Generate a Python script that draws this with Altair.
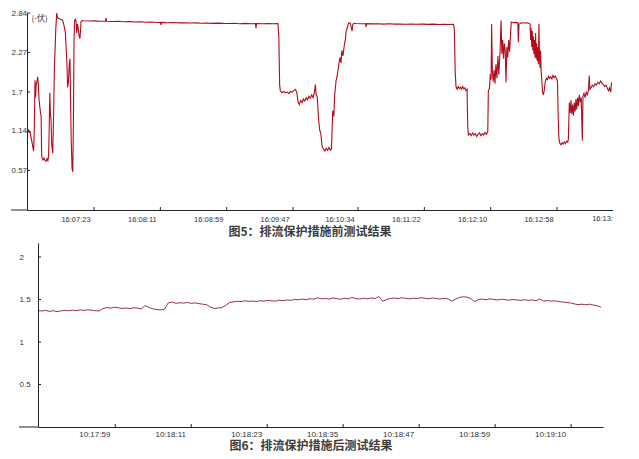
import json
import altair as alt
import pandas as pd

# ---------------- Figure 5 : before drainage protection ----------------
# (seconds after 16:06:35, voltage)
top_trace = [
    (0, 1.15), (0.7, 1.16), (1.4, 1.12), (2.2, 1.13), (2.9, 1.05), (3.6, 0.98), (4.3, 0.90), (4.8, 0.85),
    (5.3, 1.20), (5.8, 1.87), (6.2, 1.62), (6.6, 1.80), (7.2, 1.85), (7.7, 1.92), (8.2, 1.80), (8.7, 1.60),
    (9.3, 1.48), (9.8, 1.40), (10.2, 1.35), (10.6, 0.80), (11.0, 0.74), (11.6, 0.72), (12.3, 0.75), (13.0, 0.72),
    (13.7, 0.70), (14.5, 0.74), (15.1, 0.71), (15.6, 0.78), (16.0, 1.10), (16.5, 1.69), (16.9, 1.40), (17.4, 1.30),
    (17.9, 0.95), (18.6, 0.82), (19.2, 1.30), (19.8, 2.05), (20.3, 2.30), (20.8, 2.60), (21.5, 2.84), (22.0, 2.77),
    (23.2, 2.76), (24.3, 2.75), (25.5, 2.74), (26.3, 2.70), (27.0, 2.64), (27.8, 2.55), (28.4, 2.30), (28.9, 2.10),
    (29.4, 1.77), (30.0, 1.85), (30.6, 2.10), (31.1, 2.18), (31.5, 1.60), (32.0, 1.00), (32.6, 0.60), (33.1, 0.55),
    (33.6, 1.30), (34.0, 2.40), (34.4, 2.73), (35.0, 2.75), (35.5, 2.72), (36.0, 2.55), (36.5, 2.68), (37.2, 2.60),
    (37.8, 2.50), (38.3, 2.47), (38.6, 2.55), (39.1, 2.72), (40.0, 2.73),
    (41.0, 2.728), (45.0, 2.724), (49.0, 2.727), (53.0, 2.722), (56.8, 2.722), (57.2, 2.77), (57.6, 2.72),
    (62, 2.718), (66, 2.721), (70, 2.714), (74, 2.716), (78, 2.71), (82, 2.712), (86, 2.706), (90, 2.71),
    (94, 2.704), (96.6, 2.705), (97.0, 2.67), (97.4, 2.705), (102, 2.70), (106, 2.703), (110, 2.698), (114, 2.70),
    (118, 2.695), (122, 2.698), (126, 2.692), (130, 2.695), (134, 2.69), (138, 2.694), (142, 2.69), (146, 2.688),
    (150, 2.692), (154, 2.686), (158, 2.69), (162, 2.685), (165.3, 2.686), (165.7, 2.62), (166.1, 2.688),
    (170, 2.685), (174, 2.688), (178, 2.684), (181.6, 2.686),
    (182.2, 2.50), (182.8, 1.80), (183.3, 1.72), (184.5, 1.69), (185.7, 1.71), (187.0, 1.69), (188.2, 1.70),
    (189.4, 1.68), (190.6, 1.71), (191.8, 1.70), (193.0, 1.72), (194.2, 1.74), (195.2, 1.70), (196.1, 1.56),
    (197.0, 1.52), (198.0, 1.58), (199.0, 1.55), (200.0, 1.60), (201.0, 1.57), (202.0, 1.62), (203.0, 1.59),
    (204.0, 1.64), (205.0, 1.61), (206.0, 1.66), (207.0, 1.62), (208.0, 1.70), (208.6, 1.81), (209.2, 1.66),
    (210.0, 1.63), (211.0, 1.30), (211.8, 1.15), (212.6, 1.10), (213.5, 0.92), (214.5, 0.88), (215.5, 0.85),
    (216.5, 0.89), (217.5, 0.86), (218.5, 0.90), (219.5, 0.86), (220.3, 0.88), (221.2, 1.43), (222.0, 1.35),
    (222.6, 1.65), (223.6, 1.86), (224.6, 1.95), (225.6, 2.10), (226.5, 2.20), (227.2, 2.12), (227.8, 2.30),
    (228.6, 2.22), (229.6, 2.38), (230.3, 2.45), (230.8, 2.56), (231.6, 2.62), (232.8, 2.70), (234.0, 2.69),
    (235.2, 2.58), (235.8, 2.68), (237.0, 2.69),
    (238, 2.688), (242, 2.684), (244.9, 2.685), (245.3, 2.64), (245.7, 2.686), (250, 2.683), (254, 2.686),
    (258, 2.68), (262, 2.684), (266, 2.679), (270, 2.682), (274, 2.678), (278, 2.681), (282, 2.677), (286, 2.68),
    (290, 2.676), (294, 2.68), (298, 2.675), (302, 2.678), (306, 2.674), (308.6, 2.676),
    (309.2, 2.62), (309.8, 2.00), (310.4, 1.78), (311.2, 1.74), (312.0, 1.78), (312.8, 1.75), (313.6, 1.77),
    (314.4, 1.74), (315.2, 1.78), (316.0, 1.75), (316.8, 1.76), (317.6, 1.72), (318.4, 1.74), (318.9, 1.20),
    (319.4, 1.08), (320.4, 1.10), (321.4, 1.07), (322.4, 1.11), (323.4, 1.08), (324.4, 1.10), (325.4, 1.06),
    (326.4, 1.09), (327.4, 1.11), (328.4, 1.07), (329.4, 1.10), (330.4, 1.08), (331.4, 1.12), (332.4, 1.09),
    (333.4, 1.13),
    (333.8, 1.72), (334.6, 1.75), (335.2, 1.96), (335.8, 1.88), (336.2, 2.68), (336.7, 2.00), (337.3, 1.85),
    (338.0, 2.02), (338.6, 1.82), (339.3, 2.10), (340.0, 1.90), (340.7, 2.22), (341.4, 1.95), (342.3, 2.30),
    (343.0, 2.73), (343.6, 2.25), (344.2, 2.45), (344.8, 2.18), (345.4, 2.40), (346.0, 2.30), (346.6, 1.84),
    (347.2, 2.35), (347.8, 2.20), (348.5, 2.45), (349.2, 2.28), (349.9, 2.55), (350.4, 2.71), (352.0, 2.70),
    (354.0, 2.705), (355.1, 2.70), (355.5, 2.42), (356.0, 2.68), (358.0, 2.70), (360.0, 2.695), (362.0, 2.70),
    (364.0, 2.68),
    (364.4, 2.45), (364.8, 2.62), (365.2, 2.35), (365.6, 2.58), (366.0, 2.30), (366.4, 2.50), (366.8, 2.25),
    (367.2, 2.45), (367.6, 2.20), (368.0, 2.55), (368.4, 2.18), (368.8, 2.40), (369.2, 2.15), (369.6, 2.35),
    (370.0, 2.10), (370.4, 2.68), (370.8, 2.20), (371.2, 2.05), (371.6, 2.30), (372.0, 2.00), (372.4, 1.90),
    (373.0, 1.70), (373.6, 1.66), (374.2, 1.72), (375.0, 1.85), (375.8, 1.90), (376.6, 1.88), (377.4, 1.93),
    (378.2, 1.90), (379.0, 1.92), (379.8, 1.89), (380.6, 1.94), (381.4, 1.91), (382.2, 1.93), (383.0, 1.90),
    (383.8, 1.86), (384.4, 1.30), (384.9, 1.02), (385.6, 0.96), (386.4, 0.94), (387.2, 0.97), (388.0, 0.95),
    (388.8, 0.98), (389.6, 0.96), (390.4, 0.99), (391.2, 0.98), (391.7, 1.02),
    (392.4, 1.55), (393.0, 1.40), (393.6, 1.58), (394.2, 1.38), (394.8, 1.52), (395.4, 1.36), (396.0, 1.55),
    (396.6, 1.42), (397.2, 1.60), (397.8, 1.45), (398.4, 1.62), (399.0, 1.50), (399.6, 1.66), (400.4, 1.55),
    (401.0, 1.62), (401.8, 1.00), (402.3, 1.65), (403.0, 1.68), (403.8, 1.62), (404.6, 1.70), (405.4, 1.66),
    (406.2, 1.72), (406.8, 1.94), (407.3, 1.74), (408.0, 1.76), (409.0, 1.80), (410.0, 1.78), (411.0, 1.82),
    (412.0, 1.80), (413.0, 1.84), (414.0, 1.82), (415.0, 1.86), (416.0, 1.83), (417.0, 1.81), (418.0, 1.78),
    (419.0, 1.80), (420.0, 1.75), (420.8, 1.72), (421.6, 1.76), (422.3, 1.70), (423.0, 1.84),
]
top_x_domain = [0, 424]
top_tick_s = [48.5, 96.5, 144.5, 192.5, 239.5, 287.5, 335.5, 383.5]
top_tick_lbl = ["16:07:23", "16:08:11", "16:08:59", "16:09:47", "16:10:34",
                "16:11:22", "16:12:10", "16:12:58"]
top_cut_label = "16:13:"  # last time label, cut off at the right edge of the plot
top_y_ticks = [0.57, 1.14, 1.7, 2.27, 2.84]
top_y_domain = [0, 2.84]
top_unit = "(-伏)"
top_caption = "图5：排流保护措施前测试结果"

# ---------------- Figure 6 : after drainage protection ----------------
bot_dt = 0.6  # sample interval, seconds after 10:17:47.4
bot_values = [
    1.37, 1.365, 1.372, 1.36, 1.368, 1.358, 1.366, 1.372, 1.368, 1.375, 1.37, 1.378, 1.372, 1.38, 1.374, 1.368, 1.366,
    1.395, 1.405, 1.398, 1.41, 1.402, 1.395, 1.40, 1.392, 1.405, 1.398, 1.39,
    1.43, 1.405, 1.39, 1.382, 1.378, 1.385, 1.46, 1.47,
    1.455, 1.462, 1.458, 1.465, 1.455, 1.46, 1.452,
    1.445, 1.44, 1.41, 1.395, 1.40, 1.405, 1.43, 1.465,
    1.472, 1.48, 1.475, 1.485, 1.478, 1.482, 1.476, 1.486, 1.48, 1.49, 1.485, 1.48, 1.492, 1.486, 1.495, 1.49,
    1.502, 1.496, 1.505, 1.498, 1.51, 1.504, 1.52, 1.508,
    1.512, 1.505, 1.518, 1.51, 1.503, 1.515, 1.508, 1.525, 1.51, 1.506, 1.514, 1.508, 1.518, 1.512,
    1.535, 1.478, 1.50,
    1.512, 1.518, 1.51, 1.52, 1.514, 1.508, 1.516, 1.51, 1.522, 1.515, 1.508, 1.518, 1.512, 1.505, 1.514, 1.508,
    1.48, 1.505, 1.525, 1.532, 1.528, 1.51, 1.475, 1.50,
    1.505, 1.498, 1.508, 1.50, 1.495, 1.504, 1.498, 1.492, 1.50, 1.495, 1.49, 1.497, 1.49, 1.495,
    1.485, 1.505, 1.482, 1.488, 1.48, 1.485,
    1.475, 1.47, 1.465, 1.46,
    1.448, 1.44, 1.445, 1.438, 1.445, 1.435,
    1.425, 1.41,
]
bot_x_domain = [0, 88.5]
bot_tick_s = [12.1, 24.0, 35.9, 47.8, 59.7, 71.6, 83.5]
bot_tick_lbl = ["10:17:59", "10:18:11", "10:18:23", "10:18:35", "10:18:47", "10:18:59", "10:19:10"]
bot_y_ticks = [0.5, 1, 1.5, 2]
bot_y_domain = [0, 2.165]
bot_caption = "图6：排流保护措施后测试结果"

# ---------------- tables ----------------
top_df = pd.DataFrame(top_trace, columns=["s", "v"])
bot_df = pd.DataFrame({"s": [i * bot_dt for i in range(len(bot_values))], "v": bot_values})

AX = "#222222"
LBL = "#333333"
LFONT = "Liberation Sans"
CFONT = "Noto Sans CJK SC"


def panel(df, xdom, ydom, xticks, xlabels, yticks, yfmt, w, h, line_color, line_w,
          label_off, label_pad, x_font, y_pad, inset, caption, cap_dx, cap_off,
          unit=None, cut_label=None):
    # inset: gap (px) between the left edge of the panel and its y axis
    xs = alt.Scale(domain=xdom, range=[inset, w], nice=False, zero=False)
    ys = alt.Scale(domain=ydom, nice=False, zero=False)
    expr = f"{json.dumps(xlabels)}[indexof({json.dumps(xticks)}, datum.value)]"
    xaxis = alt.Axis(values=xticks, labelExpr=expr, labelOffset=label_off, labelPadding=label_pad,
                     ticks=False, tickSize=0, grid=False, labelFlush=False, labelOverlap=False,
                     domainColor=AX, labelColor=LBL, labelFontSize=x_font, labelFont=LFONT, title=None)
    yaxis_kw = dict(values=yticks, format=yfmt, labelAlign="left", labelBaseline="middle",
                    labelPadding=y_pad, ticks=False, tickSize=0, grid=False,
                    domainColor=AX, labelColor=LBL, labelFontSize=8, labelFont=LFONT,
                    minExtent=max(y_pad - inset, 0), maxExtent=16)
    if inset:
        yaxis_kw.update(offset=-inset)
    if unit:
        yaxis_kw.update(title=unit, titleAngle=0, titleX=4, titleY=5, titleAlign="left",
                        titleBaseline="middle", titleFontSize=8, titleFontWeight="normal",
                        titleColor=LBL, titleFont=CFONT)
    else:
        yaxis_kw.update(title=None)
    yaxis = alt.Axis(**yaxis_kw)

    line = alt.Chart(df).mark_line(color=line_color, strokeWidth=line_w, clip=True).encode(
        x=alt.X("s:Q", scale=xs, axis=xaxis),
        y=alt.Y("v:Q", scale=ys, axis=yaxis),
    )
    xt = alt.Chart(pd.DataFrame({"s": xticks})).mark_rule(color=AX, strokeWidth=1).encode(
        x=alt.X("s:Q", scale=xs, axis=xaxis), y=alt.value(h), y2=alt.value(h - 3))
    yt = alt.Chart(pd.DataFrame({"v": yticks})).mark_rule(color=AX, strokeWidth=1).encode(
        y=alt.Y("v:Q", scale=ys, axis=yaxis), x=alt.value(inset), x2=alt.value(inset + 3))
    ext = alt.Chart(pd.DataFrame({"a": [0]})).mark_rule(color=AX, strokeWidth=1).encode(
        x=alt.value(inset - y_pad), x2=alt.value(inset), y=alt.value(h))
    layers = [line, xt, yt, ext]
    if cut_label:
        cut = alt.Chart(pd.DataFrame({"s": [xdom[1]], "t": [cut_label]})).mark_text(
            align="right", baseline="top", font=LFONT, fontSize=x_font, color=LBL
        ).encode(x=alt.X("s:Q", scale=xs, axis=xaxis), y=alt.value(h + label_pad), text="t:N")
        layers.append(cut)
    return alt.layer(*layers).properties(
        width=w, height=h,
        title=alt.TitleParams(caption, orient="bottom", anchor="middle", frame="group",
                              font=CFONT, fontSize=12, fontWeight="bold", color="#3c3c3c",
                              offset=cap_off, dx=cap_dx),
    )


top = panel(top_df, top_x_domain, top_y_domain, top_tick_s, top_tick_lbl, top_y_ticks, ".3~g",
            586, 197, "#b00c1c", 1.1, -18.5, 5, 7.5, 16, 0, top_caption, -10, 4,
            unit=top_unit, cut_label=top_cut_label)
bottom = panel(bot_df, bot_x_domain, bot_y_domain, bot_tick_s, bot_tick_lbl, bot_y_ticks, "~g",
               576, 184, "#8a1c2a", 0.9, -21, 3, 8, 19, 11, bot_caption, -4, 3)

chart = alt.vconcat(top, bottom, spacing=5).properties(
    padding={"left": 2, "top": 1, "right": 0, "bottom": 0}
).configure_view(strokeWidth=0)

chart.save("out.html", embed_options={"renderer": "svg", "actions": False})
